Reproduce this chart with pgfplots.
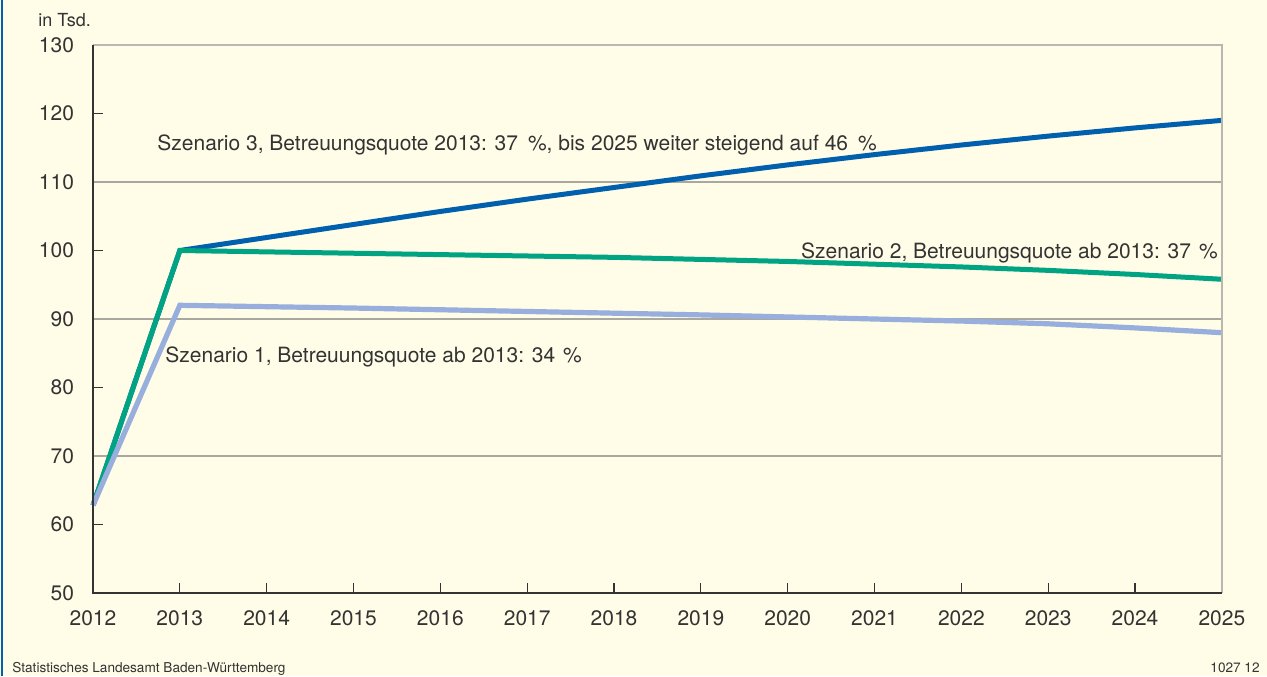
\documentclass[border=0pt]{standalone}
\usepackage{fontspec}
\setmainfont{TeX Gyre Heros}
\usepackage{pgfplots}
\pgfplotsset{compat=1.18}
\definecolor{bg}{HTML}{FFFDE8}
\definecolor{sthree}{HTML}{0060AE}
\definecolor{stwo}{HTML}{00A382}
\definecolor{sone}{HTML}{98AEDC}
\definecolor{txt}{HTML}{333333}
\definecolor{gridc}{HTML}{A8A8A0}
\definecolor{boxc}{HTML}{B8B8B0}
\begin{document}
\begin{tikzpicture}
\useasboundingbox (0pt,0pt) rectangle (633.5pt,338pt);
\fill[bg] (0pt,0pt) rectangle (633.5pt,338pt);
\draw[color=sthree, line width=1pt] (0.8pt,0pt) -- (0.8pt,338pt);
\node[anchor=base west, font=\fontsize{9}{10}\selectfont, text=txt, inner sep=0pt] at (19pt,324.5pt) {in Tsd.};
\node[anchor=base west, font=\fontsize{6.8}{8}\selectfont, text=txt, inner sep=0pt] at (6pt,2pt) {Statistisches Landesamt Baden-Württemberg};
\node[anchor=base east, font=\fontsize{6.8}{8}\selectfont, text=txt, inner sep=0pt] at (630pt,2pt) {1027 12};
\begin{axis}[
  at={(46.5pt,41.5pt)}, anchor=south west,
  scale only axis, width=564.5pt, height=274pt,
  xmin=2012, xmax=2025, ymin=50, ymax=130,
  axis line style={draw=none},
  clip=false,
  xtick={2012,...,2025}, ytick={50,60,...,130},
  xtick pos=left, ytick pos=left,
  scaled x ticks=false,
  /pgf/number format/1000 sep={},
  /pgf/number format/assume math mode=true,
  tick align=inside, major tick length=5pt,
  tick style={color=txt, line width=0.6pt},
  ticklabel style={font=\fontsize{10.5}{12}\selectfont, text=txt},
  xticklabel style={yshift=-5.5pt},
  yticklabel style={xshift=-6pt},
  extra y ticks={70,90,110},
  extra y tick labels={},
  extra y tick style={major tick length=0pt, grid=major, major grid style={color=gridc, line width=0.6pt}},
]
\addplot[sthree, line width=2.5pt] coordinates {
 (2012,62.8) (2013,100.0) (2014,101.9) (2015,103.8) (2016,105.7) (2017,107.5) (2018,109.2)
 (2019,110.9) (2020,112.5) (2021,114.0) (2022,115.4) (2023,116.7) (2024,117.9) (2025,119.0)};
\addplot[stwo, line width=2.5pt] coordinates {
 (2012,62.8) (2013,100.0) (2014,99.8) (2015,99.6) (2016,99.4) (2017,99.2) (2018,99.0)
 (2019,98.7) (2020,98.4) (2021,98.0) (2022,97.6) (2023,97.1) (2024,96.5) (2025,95.8)};
\addplot[sone, line width=2.6pt] coordinates {
 (2012,62.8) (2013,92.0) (2014,91.8) (2015,91.6) (2016,91.35) (2017,91.1) (2018,90.85)
 (2019,90.6) (2020,90.3) (2021,90.0) (2022,89.7) (2023,89.3) (2024,88.7) (2025,88.0)};
\draw[color=boxc, line width=0.7pt] (rel axis cs:0,1) -- (rel axis cs:1,1) -- (rel axis cs:1,0);
\draw[color=txt, line width=0.7pt] (rel axis cs:0,1) -- (rel axis cs:0,0) -- (rel axis cs:1,0);
\node[anchor=base west, inner sep=0pt, text=txt, font=\fontsize{10.5}{12}\selectfont] at (axis cs:2012.737,114.67) {Szenario 3, Betreuungsquote 2013: 37\hspace{5pt}\%, bis 2025 weiter steigend auf 46\hspace{5pt}\%};
\node[anchor=base east, inner sep=0pt, text=txt, font=\fontsize{10.5}{12}\selectfont] at (axis cs:2024.955,98.86) {Szenario 2, Betreuungsquote ab 2013: 37\hspace{4pt}\%};
\node[anchor=base west, inner sep=0pt, text=txt, font=\fontsize{10.5}{12}\selectfont] at (axis cs:2012.829,83.58) {Szenario 1, Betreuungsquote ab 2013: 34\hspace{4pt}\%};
\end{axis}
\end{tikzpicture}
\end{document}
